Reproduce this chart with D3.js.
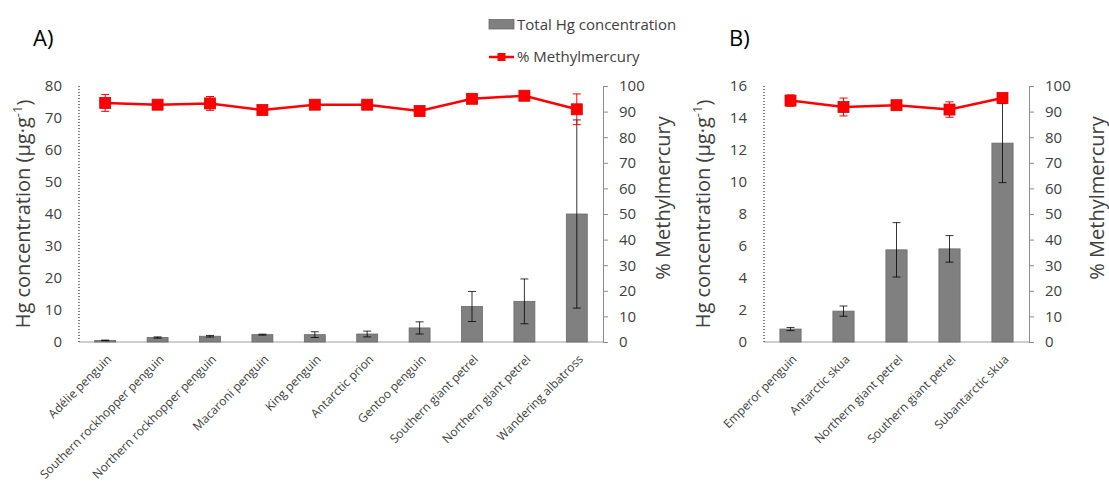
<!DOCTYPE html>
<html><head><meta charset="utf-8">
<script src="https://cdn.jsdelivr.net/npm/d3@7"></script>
<style>body{margin:0;background:#fff;} text{font-family:"Open Sans",sans-serif;}</style>
</head><body>
<svg id="chart" width="1109" height="487"></svg>
<script>
// ---- data ----
const catsA = ["Adélie penguin","Southern rockhopper penguin","Northern rockhopper penguin","Macaroni penguin","King penguin","Antarctic prion","Gentoo penguin","Southern giant petrel","Northern giant petrel","Wandering albatross"];
const hgA = [0.5,1.4,1.8,2.3,2.3,2.5,4.4,11.1,12.7,40.0];
const hgErrA = [0.1,0.2,0.25,0.15,0.9,0.9,1.9,4.7,7.0,29.4];
const meA = [93.4,92.7,93.2,90.6,92.7,92.7,90.2,95.0,96.2,90.9];
const meErrA = [3.3,1.0,2.7,1.0,1.0,1.0,0.8,1.2,0.8,6.0];

const catsB = ["Emperor penguin","Antarctic skua","Northern giant petrel","Southern giant petrel","Subantarctic skua"];
const hgB = [0.81,1.93,5.76,5.82,12.43];
const hgErrB = [0.1,0.32,1.7,0.83,2.47];
const meB = [94.3,91.8,92.5,90.8,95.3];
const meErrB = [2.2,3.5,1.0,3.0,1.0];

const ticksLeftA = [0,10,20,30,40,50,60,70,80];
const ticksLeftB = [0,2,4,6,8,10,12,14,16];
const ticksRight = [0,10,20,30,40,50,60,70,80,90,100];

const svg = d3.select("#chart");
const TXT = "#404040";

function panel(o){
  const g = svg.append("g");
  const x = d3.scaleBand().domain(o.cats).range([o.x0,o.x1]).paddingInner(0.6).paddingOuter(0.3);
  const yL = d3.scaleLinear().domain([0,o.maxL]).range([342,86]);
  const yR = d3.scaleLinear().domain([0,100]).range([342,86]);
  const cx = d => x(d) + x.bandwidth()/2;

  // bottom axis line
  g.append("line").attr("x1",o.x0).attr("x2",o.x1).attr("y1",yL(0)).attr("y2",yL(0))
    .attr("stroke","#bfbfbf").attr("stroke-width",1.3);
  // left dotted axis
  g.append("line").attr("x1",o.x0).attr("x2",o.x0).attr("y1",yL(o.maxL)).attr("y2",yL(0))
    .attr("stroke","#000").attr("stroke-width",1).attr("stroke-dasharray","1,2");
  // left tick labels
  g.selectAll(".tl").data(o.ticksL).join("text")
    .attr("x",o.x0-17).attr("y",d=>yL(d)).attr("dy","0.35em").attr("text-anchor","end")
    .attr("font-size",15).attr("fill",TXT).text(d=>d);
  // right axis
  const ra = g.append("g").attr("transform",`translate(${o.x1},0)`)
    .call(d3.axisRight(yR).tickValues(ticksRight).tickSize(5).tickPadding(11));
  ra.select(".domain").attr("stroke","#8c8c8c");
  ra.selectAll(".tick line").attr("stroke","#8c8c8c");
  ra.selectAll(".tick text").attr("font-size",15).attr("fill",TXT).attr("font-family","Open Sans");

  // bars
  g.selectAll(".bar").data(o.cats).join("rect")
    .attr("x",d=>x(d)).attr("width",x.bandwidth())
    .attr("y",(d,i)=>yL(o.hg[i])).attr("height",(d,i)=>yL(0)-yL(o.hg[i]))
    .attr("fill","#808080").attr("stroke","#6a6a6a").attr("stroke-width",0.8);
  // bar error bars
  o.cats.forEach((c,i)=>{
    const lo = yL(o.hg[i]-o.hgErr[i]), hi = yL(o.hg[i]+o.hgErr[i]), xc = cx(c);
    g.append("line").attr("x1",xc).attr("x2",xc).attr("y1",lo).attr("y2",hi).attr("stroke","#000").attr("stroke-width",0.8);
    [lo,hi].forEach(yy=>g.append("line").attr("x1",xc-4).attr("x2",xc+4).attr("y1",yy).attr("y2",yy).attr("stroke","#000").attr("stroke-width",0.8));
  });
  // red line
  const line = d3.line().x((d,i)=>cx(o.cats[i])).y(d=>yR(d));
  g.append("path").datum(o.me).attr("d",line).attr("fill","none").attr("stroke","#ff0000").attr("stroke-width",2.5);
  // red error bars
  o.cats.forEach((c,i)=>{
    const lo = yR(o.me[i]-o.meErr[i]), hi = yR(o.me[i]+o.meErr[i]), xc = cx(c);
    g.append("line").attr("x1",xc).attr("x2",xc).attr("y1",lo).attr("y2",hi).attr("stroke","#ff0000").attr("stroke-width",1);
    [lo,hi].forEach(yy=>g.append("line").attr("x1",xc-4).attr("x2",xc+4).attr("y1",yy).attr("y2",yy).attr("stroke","#ff0000").attr("stroke-width",1));
  });
  // markers
  g.selectAll(".mk").data(o.me).join("rect")
    .attr("x",(d,i)=>cx(o.cats[i])-5.5).attr("y",d=>yR(d)-5.5).attr("width",11).attr("height",11)
    .attr("fill","#ff0000").attr("stroke","#e00000").attr("stroke-width",0.8);

  // category labels
  g.selectAll(".cl").data(o.cats).join("text")
    .attr("transform",d=>`translate(${cx(d)+7},${360}) rotate(-45)`)
    .attr("text-anchor","end").attr("font-size",12).attr("fill",TXT).text(d=>d);

  // left title
  const lt = g.append("text").attr("transform",`translate(${o.ltx},${214}) rotate(-90)`)
    .attr("text-anchor","middle").attr("dy","0.35em").attr("font-size",20).attr("fill",TXT);
  lt.append("tspan").text("Hg concentration (µg·g");
  lt.append("tspan").attr("font-size",13).attr("dy","-0.6em").text("-1");
  lt.append("tspan").attr("font-size",20).attr("dy","0.45em").text(")");
  // right title
  g.append("text").attr("transform",`translate(${o.rtx},${198}) rotate(-90)`)
    .attr("text-anchor","middle").attr("dy","0.35em").attr("font-size",20).attr("fill",TXT).text("% Methylmercury");
  // panel letter
  g.append("text").attr("x",o.lx).attr("y",38).attr("dy","0.35em").attr("font-size",22).attr("fill","#000").text(o.letter);
}

panel({cats:catsA,hg:hgA,hgErr:hgErrA,me:meA,meErr:meErrA,maxL:80,ticksL:ticksLeftA,x0:79,x1:603,ltx:23,rtx:663,lx:33,letter:"A)"});
panel({cats:catsB,hg:hgB,hgErr:hgErrB,me:meB,meErr:meErrB,maxL:16,ticksL:ticksLeftB,x0:764,x1:1029,ltx:703,rtx:1097,lx:729,letter:"B)"});

// legend
const lg = svg.append("g");
lg.append("rect").attr("x",489).attr("y",19.5).attr("width",25).attr("height",9.5).attr("fill","#808080").attr("stroke","#6a6a6a").attr("stroke-width",0.8);
lg.append("text").attr("x",517).attr("y",25).attr("dy","0.35em").attr("font-size",15).attr("fill",TXT).text("Total Hg concentration");
lg.append("line").attr("x1",489).attr("x2",514).attr("y1",57).attr("y2",57).attr("stroke","#ff0000").attr("stroke-width",2.5);
lg.append("rect").attr("x",497.5).attr("y",53).attr("width",8).attr("height",8).attr("fill","#ff0000");
lg.append("text").attr("x",517).attr("y",57).attr("dy","0.35em").attr("font-size",15).attr("fill",TXT).text("% Methylmercury");
</script>
</body></html>
